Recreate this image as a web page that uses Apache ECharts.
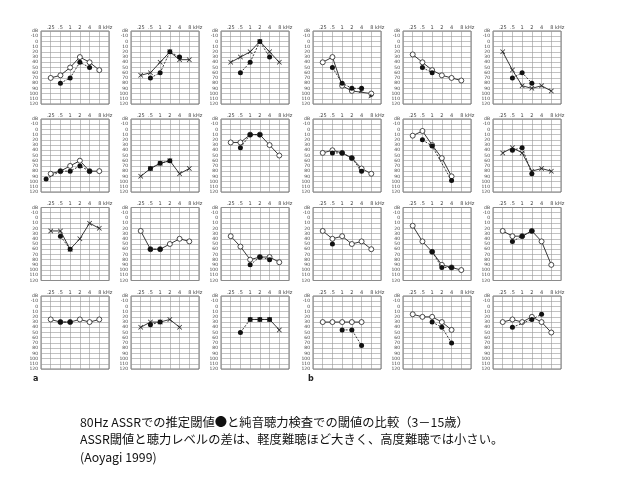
<!DOCTYPE html>
<html><head><meta charset="utf-8">
<script src="https://cdn.jsdelivr.net/npm/echarts@6/dist/echarts.min.js"></script>
<style>html,body{margin:0;padding:0;background:#fff}#c{width:638px;height:479px}</style>
</head><body><div id="c"></div>
<script>
// frequencies (kHz) of the audiogram columns
const freqs = [0.25, 0.5, 1, 2, 4, 8];
const freqTickLabels = ['.25', '.5', '1', '2', '4', '8 kHz'];
// pure-tone symbol per panel: 'o' = open circle, 'x' = cross
const ptaSymbol = ['o','x','x','o','o','x',
                   'o','x','o','o','o','x',
                   'x','o','o','o','o','o',
                   'o','x','x','o','o','o'];
// pure-tone thresholds (dB) at freqs, per panel (row by row, 6 panels per row)
const ptaDb = [
  [70,65,50,30,40,55], [65,60,40,20,35,35], [40,30,20,0,20,40],
  [40,30,85,95,null,100], [25,40,55,65,70,75], [20,55,85,90,85,95],
  [85,80,70,60,80,80], [90,75,65,60,85,75], [25,25,10,10,30,50],
  [45,40,45,55,75,85], [12,3,30,55,90,null], [45,35,45,80,75,80],
  [25,25,60,40,10,20], [25,60,60,50,40,45], [35,55,80,75,75,85],
  [25,40,35,50,45,60], [15,45,65,90,95,100], [25,35,35,25,45,90],
  [25,30,30,25,30,25], [40,30,30,25,40,null], [null,null,25,25,25,45],
  [30,30,30,30,30,null], [15,20,20,30,45,null], [30,25,30,20,30,50]
];
// 80Hz ASSR estimated thresholds (dB), per panel
const assrDb = [
  [null,80,70,40,50,null], [null,70,60,20,30,null], [null,60,40,0,30,null],
  [null,50,80,90,90,null], [null,50,60,null,null,null], [null,70,60,80,null,null],
  [null,80,80,70,80,null], [null,75,65,60,null,null], [null,35,10,10,null,null],
  [null,45,45,55,80,null], [null,20,32,null,98,null], [null,40,35,85,null,null],
  [null,35,60,null,null,null], [null,60,60,null,null,null], [null,null,90,75,80,null],
  [null,50,null,null,null,null], [null,null,65,95,95,null], [null,45,35,25,null,null],
  [null,30,30,null,null,null], [null,35,30,null,null,null], [null,50,25,25,25,null],
  [null,null,45,45,75,null], [null,null,30,40,70,null], [null,40,null,25,15,null]
];
// extra ASSR point below .25 kHz: [panel, kHz, dB]
const extraAssr = [[6, 0.18, 95]];
// no-response arrows: [panel, kHz, dB]
const noResponse = [[3, 4, 90], [3, 8, 100]];

const colLeft = [41, 131, 221, 313, 403, 493];
const rowTop = [31, 119, 207.5, 296];
const GW = 68, GH = 73;
const crossPath = 'path://M0,1 L1,0 L5,4 L9,0 L10,1 L6,5 L10,9 L9,10 L5,6 L1,10 L0,9 L4,5 Z';
const lab = {fontSize: 5, color: '#444', fontFamily: 'DejaVu Sans'};

const grids = [], xAxes = [], yAxes = [], series = [];
for (let i = 0; i < 24; i++) {
  const r = Math.floor(i / 6), c = i % 6;
  grids.push({left: colLeft[c], top: rowTop[r], width: GW, height: GH,
    show: true, borderColor: '#555', borderWidth: 0.8, backgroundColor: 'transparent'});
  xAxes.push({type: 'log', logBase: 2, min: 0.125, max: 16, gridIndex: i, position: 'top',
    splitNumber: 7,
    axisLine: {show: false}, axisTick: {show: false},
    splitLine: {show: true, lineStyle: {color: '#999', width: 0.6}},
    axisLabel: Object.assign({}, lab, {margin: 1, showMinLabel: true, showMaxLabel: true,
      formatter: v => {
        const k = freqs.findIndex(f => Math.abs(Math.log2(f) - Math.log2(v)) < 0.01);
        if (k < 0) return '';
        return k === 5 ? '{k|' + freqTickLabels[k] + '}' : freqTickLabels[k];
      },
      rich: {k: {fontSize: 5, color: '#444', padding: [0, 0, 0, 12], fontFamily: 'DejaVu Sans'}}})});
  yAxes.push({type: 'value', inverse: true, min: -20, max: 120, interval: 10, gridIndex: i,
    axisLine: {show: false}, axisTick: {show: false},
    splitLine: {show: true, lineStyle: {color: '#999', width: 0.6}},
    axisLabel: Object.assign({}, lab, {margin: 3, fontSize: 4.5,
      formatter: v => v === -20 ? 'dB' : String(v)})});
  const pts = [];
  freqs.forEach((f, k) => { if (ptaDb[i][k] != null) pts.push([f, ptaDb[i][k]]); });
  const isX = ptaSymbol[i] === 'x';
  series.push({type: 'line', xAxisIndex: i, yAxisIndex: i, data: pts, z: 3,
    symbol: isX ? crossPath : 'circle', symbolSize: isX ? 5 : 5,
    itemStyle: isX ? {color: '#222', borderWidth: 0} : {color: '#fff', borderColor: '#222', borderWidth: 0.8},
    lineStyle: {color: '#222', width: 0.9}, silent: true, animation: false});
  const apts = [];
  extraAssr.forEach(e => { if (e[0] === i) apts.push([e[1], e[2]]); });
  freqs.forEach((f, k) => { if (assrDb[i][k] != null) apts.push([f, assrDb[i][k]]); });
  series.push({type: 'line', xAxisIndex: i, yAxisIndex: i, data: apts, z: 4,
    symbol: 'circle', symbolSize: 5,
    itemStyle: {color: '#111', borderWidth: 0},
    lineStyle: {color: '#222', width: 0.9, type: [2, 1.5]}, silent: true, animation: false});
  const nr = noResponse.filter(e => e[0] === i).map(e => [e[1], e[2]]);
  if (nr.length) series.push({type: 'scatter', xAxisIndex: i, yAxisIndex: i, data: nr, z: 5,
    symbol: 'arrow', symbolSize: [3, 6], symbolRotate: 135, symbolOffset: [-3, 5],
    itemStyle: {color: '#111'}, silent: true, animation: false});
}

const chart = echarts.init(document.getElementById('c'), null, {renderer: 'canvas'});
chart.setOption({
  backgroundColor: '#fff', animation: false,
  grid: grids, xAxis: xAxes, yAxis: yAxes, series: series,
  graphic: [
    {type: 'text', left: 33, top: 375, style: {text: 'a', fontSize: 8, fontWeight: 'bold', fill: '#222', fontFamily: 'DejaVu Sans'}},
    {type: 'text', left: 308, top: 375, style: {text: 'b', fontSize: 8, fontWeight: 'bold', fill: '#222', fontFamily: 'DejaVu Sans'}},
    {type: 'text', left: 80, top: 416, style: {text: '80Hz ASSRでの推定閾値●と純音聴力検査での閾値の比較（3－15歳）', fontSize: 12.3, fill: '#111', fontFamily: 'Noto Sans CJK JP'}},
    {type: 'text', left: 80, top: 433.5, style: {text: 'ASSR閾値と聴力レベルの差は、軽度難聴ほど大きく、高度難聴では小さい。', fontSize: 12.3, fill: '#111', fontFamily: 'Noto Sans CJK JP'}},
    {type: 'text', left: 80, top: 451, style: {text: '(Aoyagi 1999)', fontSize: 12.3, fill: '#111', fontFamily: 'Noto Sans CJK JP'}}
  ]
});
</script></body></html>
